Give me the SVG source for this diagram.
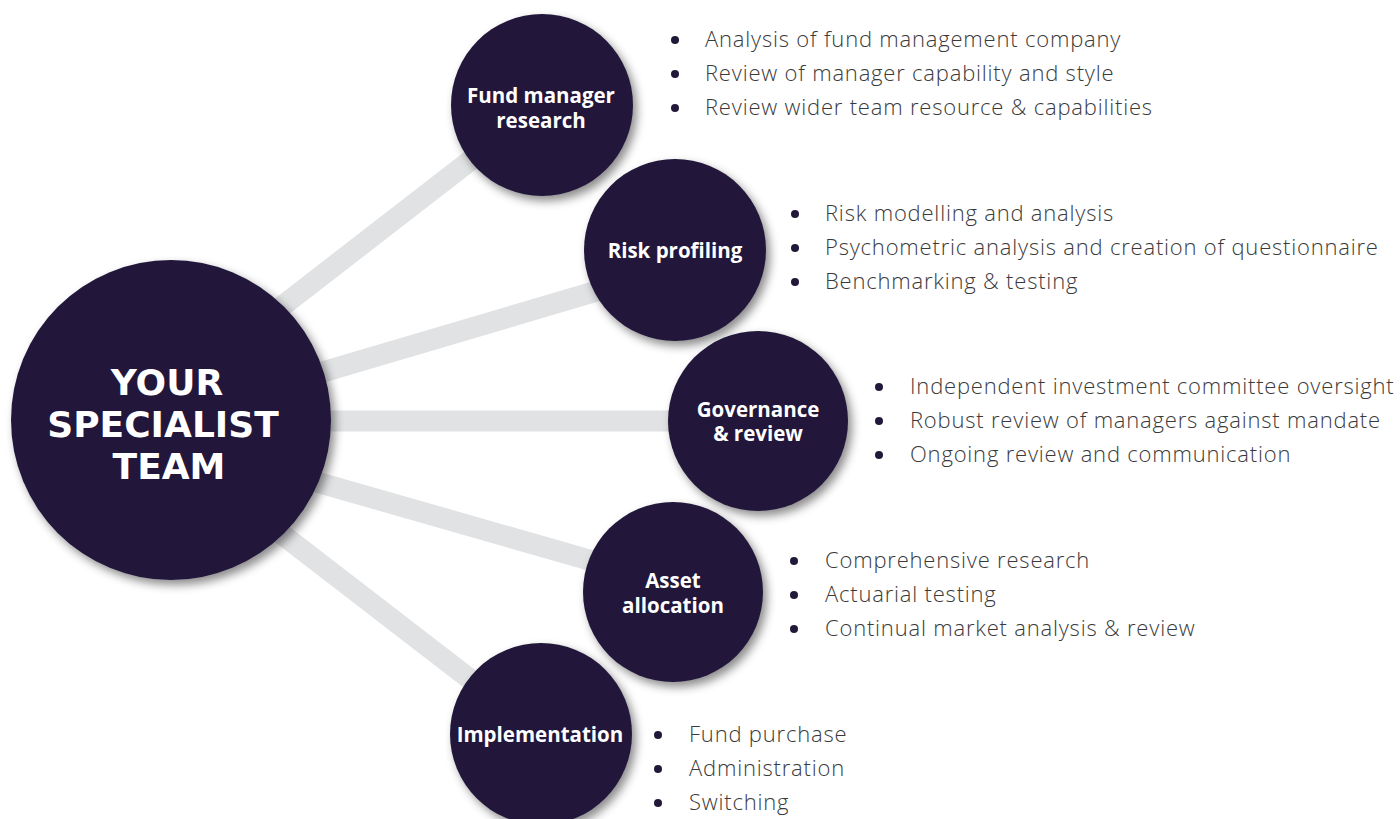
<svg xmlns="http://www.w3.org/2000/svg" width="1400" height="819" viewBox="0 0 1400 819">
  <defs>
    <filter id="shadow" x="-30%" y="-30%" width="160%" height="160%">
      <feDropShadow dx="4" dy="5" stdDeviation="5" flood-color="#000000" flood-opacity="0.45"/>
    </filter>
    <style>
      .bar { stroke: #e1e2e4; stroke-width: 21; fill: none; }
      .node { fill: #22193a; filter: url(#shadow); }
      .title { font-family: "DejaVu Sans", "Liberation Sans", sans-serif; font-weight: bold; font-size: 36px; fill: #ffffff; text-anchor: middle; }
      .label { font-family: "Open Sans", "Liberation Sans", sans-serif; font-weight: 700; font-size: 20.5px; fill: #ffffff; text-anchor: middle; }
      .item { font-family: "Open Sans", "Liberation Sans", sans-serif; font-weight: 300; font-size: 22px; letter-spacing: 0.8px; fill: #3a3a3a; }
      .dot { fill: #22193a; }
    </style>
  </defs>
  <rect width="1400" height="819" fill="#ffffff"/>

  <g id="connectors">
    <line class="bar" x1="170" y1="393" x2="542" y2="105"/>
    <line class="bar" x1="170" y1="417" x2="675" y2="268"/>
    <line class="bar" x1="170" y1="421" x2="758" y2="421"/>
    <line class="bar" x1="170" y1="440" x2="673" y2="584"/>
    <line class="bar" x1="170" y1="448" x2="541" y2="734"/>
  </g>

  <g id="node-team">
    <circle class="node" cx="171" cy="420" r="160"/>
    <text class="title"><tspan x="167" y="395">YOUR</tspan><tspan x="163" y="437">SPECIALIST</tspan><tspan x="169" y="479">TEAM</tspan></text>
  </g>

  <g id="node-fund-manager-research">
    <circle class="node" cx="542" cy="105" r="91"/>
    <text class="label"><tspan x="541" y="103">Fund manager</tspan><tspan x="541" y="128">research</tspan></text>
  </g>

  <g id="node-risk-profiling">
    <circle class="node" cx="675" cy="250" r="91"/>
    <text class="label" x="675" y="258">Risk profiling</text>
  </g>

  <g id="node-governance">
    <circle class="node" cx="758" cy="421" r="90"/>
    <text class="label"><tspan x="758" y="417">Governance</tspan><tspan x="758" y="441">&amp; review</tspan></text>
  </g>

  <g id="node-asset-allocation">
    <circle class="node" cx="673" cy="592" r="90"/>
    <text class="label"><tspan x="673" y="588">Asset</tspan><tspan x="673" y="613">allocation</tspan></text>
  </g>

  <g id="node-implementation">
    <circle class="node" cx="541" cy="734" r="91"/>
    <text class="label" x="540" y="742">Implementation</text>
  </g>

  <g id="list-fund-manager-research">
    <circle class="dot" cx="675" cy="40" r="4"/>
    <circle class="dot" cx="675" cy="74" r="4"/>
    <circle class="dot" cx="675" cy="108" r="4"/>
    <text class="item" x="705" y="47">Analysis of fund management company</text>
    <text class="item" x="705" y="81">Review of manager capability and style</text>
    <text class="item" x="705" y="115">Review wider team resource &amp; capabilities</text>
  </g>

  <g id="list-risk-profiling">
    <circle class="dot" cx="795" cy="214" r="4"/>
    <circle class="dot" cx="795" cy="248" r="4"/>
    <circle class="dot" cx="795" cy="282" r="4"/>
    <text class="item" x="825" y="221">Risk modelling and analysis</text>
    <text class="item" x="825" y="255">Psychometric analysis and creation of questionnaire</text>
    <text class="item" x="825" y="289">Benchmarking &amp; testing</text>
  </g>

  <g id="list-governance">
    <circle class="dot" cx="879" cy="387" r="4"/>
    <circle class="dot" cx="879" cy="421" r="4"/>
    <circle class="dot" cx="879" cy="455" r="4"/>
    <text class="item" x="910" y="394">Independent investment committee oversight</text>
    <text class="item" x="910" y="428">Robust review of managers against mandate</text>
    <text class="item" x="910" y="462">Ongoing review and communication</text>
  </g>

  <g id="list-asset-allocation">
    <circle class="dot" cx="794" cy="561" r="4"/>
    <circle class="dot" cx="794" cy="595" r="4"/>
    <circle class="dot" cx="794" cy="629" r="4"/>
    <text class="item" x="825" y="568">Comprehensive research</text>
    <text class="item" x="825" y="602">Actuarial testing</text>
    <text class="item" x="825" y="636">Continual market analysis &amp; review</text>
  </g>

  <g id="list-implementation">
    <circle class="dot" cx="658" cy="735" r="4"/>
    <circle class="dot" cx="658" cy="769" r="4"/>
    <circle class="dot" cx="658" cy="803" r="4"/>
    <text class="item" x="689" y="742">Fund purchase</text>
    <text class="item" x="689" y="776">Administration</text>
    <text class="item" x="689" y="810">Switching</text>
  </g>
</svg>
